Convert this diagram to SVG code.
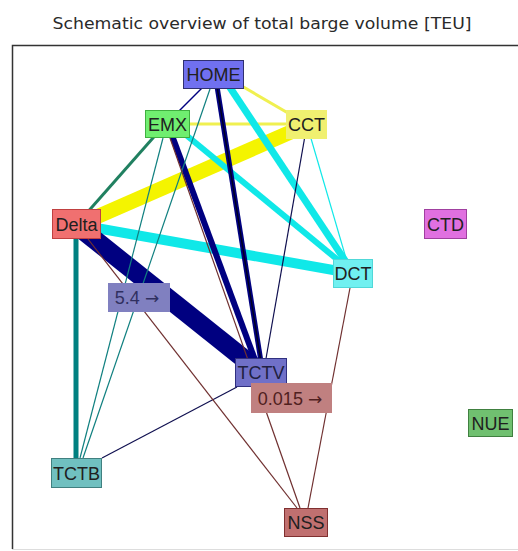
<svg xmlns="http://www.w3.org/2000/svg" width="518" height="551" viewBox="0 0 518 551">
<style>
.t{font-family:"Liberation Sans",Arial,sans-serif;font-size:18px;fill:#202020;text-anchor:middle}
.title{font-family:"DejaVu Sans",Verdana,sans-serif;font-size:16px;fill:#2a2a2a;text-anchor:middle}
.ar{font-family:"DejaVu Sans",sans-serif;font-size:17px}
.e{fill:none;stroke-linecap:butt}
.thin{stroke-width:1.2}
.y{stroke:#f4f400}
.c{stroke:#10e8e8}
.n{stroke:#000080}
.br{stroke:#703030}
.tl{stroke:#108080}
</style>
<rect x="0" y="0" width="518" height="551" fill="#ffffff"/>
<text class="title" x="262" y="29" textLength="419" lengthAdjust="spacingAndGlyphs">Schematic overview of total barge volume [TEU]</text>
<path d="M12.5 549 V45.5 H518" fill="none" stroke="#333" stroke-width="1.5"/>
<line x1="12" y1="549.5" x2="518" y2="549.5" stroke="#ddd" stroke-width="1"/>
<g id="connectors">
  <line class="e y" x1="300" y1="128" x2="85" y2="222" stroke-width="15"/>
  <line class="e y" x1="240" y1="85" x2="300" y2="120" stroke-width="3" style="stroke:#f0f050"/>
  <line class="e y" x1="167" y1="124" x2="306" y2="124" stroke-width="3" style="stroke:#f0f050"/>
  <line class="e c" x1="225" y1="80" x2="350" y2="268" stroke-width="7"/>
  <line class="e c" x1="180" y1="130" x2="350" y2="270" stroke-width="6"/>
  <line class="e c" x1="85" y1="226" x2="350" y2="273" stroke-width="10"/>
  <line class="e c" x1="310" y1="135" x2="348" y2="265" stroke-width="1.2"/>
  <line class="e n" x1="80" y1="228" x2="258" y2="370" stroke-width="19"/>
  <line class="e n" x1="170" y1="130" x2="258" y2="368" stroke-width="6"/>
  <line class="e n" x1="216" y1="80" x2="262" y2="368" stroke-width="5"/>
  <line class="e" x1="216" y1="80" x2="262" y2="368" stroke="#000020" stroke-width="1.5"/>
  <line class="e thin" x1="306" y1="130" x2="264" y2="370" stroke="#101050"/>
  <line class="e n" x1="205" y1="85" x2="175" y2="115" stroke-width="1.5"/>
  <line class="e" x1="76" y1="224" x2="76" y2="473" stroke="#008080" stroke-width="5"/>
  <line class="e" x1="160" y1="130" x2="85" y2="215" stroke="#208060" stroke-width="3"/>
  <line class="e tl thin" x1="163" y1="138" x2="80" y2="458"/>
  <line class="e tl thin" x1="210" y1="89" x2="83" y2="458"/>
  <line class="e thin" x1="237" y1="387" x2="102" y2="458" stroke="#101050"/>
  <line class="e br thin" x1="88" y1="239" x2="297" y2="508"/>
  <line class="e br thin" x1="170" y1="138" x2="300" y2="508"/>
  <line class="e br thin" x1="350" y1="288" x2="308" y2="508"/>
</g>
<g id="HOME"><rect x="183.5" y="60.5" width="60" height="28" fill="#7070f0" stroke="#303070"/><text class="t" x="213.5" y="81">HOME</text></g>
<g id="EMX"><rect x="145.5" y="110.5" width="44" height="27" fill="#70ee70" stroke="#40b040"/><text class="t" x="167.5" y="130.5">EMX</text></g>
<g id="CCT"><rect x="286.5" y="110.5" width="40" height="28" fill="#f0f070" stroke="#f0f070"/><text class="t" x="306.5" y="131">CCT</text></g>
<g id="Delta"><rect x="52.5" y="209.5" width="48" height="29" fill="#f07070" stroke="#c04040"/><text class="t" x="76.5" y="230.5">Delta</text></g>
<g id="DCT"><rect x="333.5" y="259.5" width="39" height="28" fill="#70f0f0" stroke="#50d8d8"/><text class="t" x="353" y="280">DCT</text></g>
<g id="CTD"><rect x="424.5" y="209.5" width="42" height="29" fill="#e070e0" stroke="#a040a0"/><text class="t" x="445.5" y="230.5">CTD</text></g>
<g id="TCTV"><rect x="235.5" y="358.5" width="51" height="28" fill="#7070c8" stroke="#303080"/><text class="t" x="261" y="379" style="fill:#202040">TCTV</text></g>
<g id="TCTB"><rect x="51.5" y="458.5" width="50" height="29" fill="#70c0c0" stroke="#408080"/><text class="t" x="76.5" y="479.5">TCTB</text></g>
<g id="NSS"><rect x="284.5" y="508.5" width="43" height="28" fill="#c07070" stroke="#803030"/><text class="t" x="306" y="529">NSS</text></g>
<g id="NUE"><rect x="468.5" y="409.5" width="44" height="27" fill="#70c070" stroke="#408040"/><text class="t" x="490.5" y="429.5">NUE</text></g>
<g id="label-5.4"><rect x="108" y="283" width="62" height="29" fill="#8080c0"/><text class="t" x="137" y="304" style="fill:#303060">5.4 <tspan class="ar">→</tspan></text></g>
<g id="label-0.015"><rect x="251" y="383" width="81" height="30" fill="#c08080"/><text class="t" x="290" y="404.5" style="fill:#502020">0.015 <tspan class="ar">→</tspan></text></g>
</svg>
